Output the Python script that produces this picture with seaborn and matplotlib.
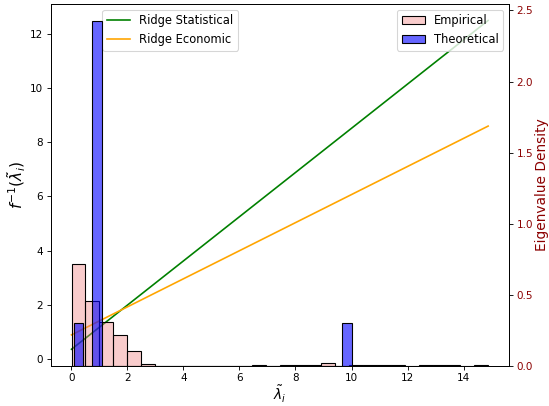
import numpy as np
import pandas as pd
import matplotlib
matplotlib.use("Agg")
import matplotlib.pyplot as plt
import seaborn as sns

# ---- data ----
# lines (left axis)
line_x = [0.013, 14.87]
ridge_statistical = [0.36, 12.5]
ridge_economic = [0.89, 8.6]

# empirical eigenvalue density (right axis), 30 bins over [0.013, 14.87]
emp_lo, emp_hi, emp_nbins = 0.013, 14.87, 30
emp_density = [0.713, 0.455, 0.309, 0.216, 0.103, 0.012,
               0, 0, 0, 0, 0, 0, 0,
               0.008, 0, 0.008, 0.008, 0.008, 0.02, 0,
               0.008, 0.008, 0.008, 0.008, 0,
               0.008, 0.008, 0.008, 0, 0.008]

# theoretical eigenvalues
theoretical_eigs = [0.10, 1.0, 1.0, 1.0, 1.0, 1.0, 1.0, 1.0, 1.0, 10.0]

DPI = 79
fig = plt.figure(figsize=(549 / DPI, 406 / DPI), dpi=DPI)
ax1 = fig.add_subplot(111)
fig.subplots_adjust(left=0.0923, right=0.9271, bottom=0.0993, top=0.9901)

sns.lineplot(x=line_x, y=ridge_statistical, ax=ax1, color="green", label="Ridge Statistical")
sns.lineplot(x=line_x, y=ridge_economic, ax=ax1, color="orange", label="Ridge Economic")
ax1.set_xlabel(r"$\tilde{\lambda}_i$", fontsize=12.5, labelpad=1)
ax1.set_ylabel(r"$f^{-1}(\tilde{\lambda}_i)$", fontsize=14, labelpad=2)
ax1.tick_params(labelsize=9.5)
ax1.legend(loc="upper left", bbox_to_anchor=(0.1, 1.0), fontsize=10.5)

ax2 = ax1.twinx()
emp_width = (emp_hi - emp_lo) / emp_nbins
emp_df = pd.DataFrame({
    "eig": emp_lo + emp_width * (np.arange(emp_nbins) + 0.5),
    "density": emp_density,
})
sns.histplot(data=emp_df, x="eig", weights="density", bins=emp_nbins,
             binrange=(emp_lo, emp_hi), stat="count",
             color="lightcoral", alpha=0.4, edgecolor="black", linewidth=1,
             ax=ax2, label="Empirical")
sns.histplot(x=theoretical_eigs, bins=30, stat="density",
             color="blue", alpha=0.6, edgecolor="black", linewidth=1,
             ax=ax2, label="Theoretical")
ax2.set_ylabel("Eigenvalue Density", color="darkred", fontsize=12.5, labelpad=2)
ax2.tick_params(axis="y", labelcolor="darkred", labelsize=9.5)
ax2.legend(loc="upper right", fontsize=10.5)

fig.savefig("out.png", dpi=DPI)
